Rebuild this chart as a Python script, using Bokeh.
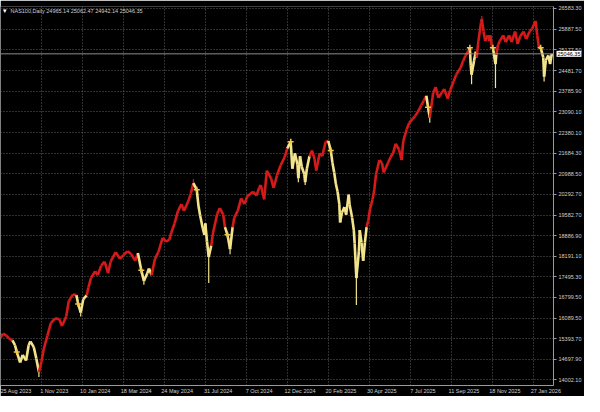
from bokeh.plotting import figure
from bokeh.models import ColumnDataSource, FixedTicker, NumeralTickFormatter, Span, Label
from bokeh.embed import file_html
from bokeh.resources import INLINE

# ---- data ----
bar_index = [0, 3, 7, 10, 14, 17, 19, 23, 26, 30, 33, 35, 39, 42, 45, 48, 51, 55, 59, 64,
             69, 72, 77, 80, 85, 89, 91, 94, 97, 101, 103, 106, 111, 114, 118, 122, 126, 129, 135, 140,
             144, 149, 153, 158, 161, 165, 168, 172, 174, 177, 181, 185, 190, 194, 198, 200, 204, 208, 212, 215,
             220, 223, 226, 230, 232, 234, 237, 239, 240, 242, 244, 247, 249, 254, 257, 261, 263, 266, 269, 272,
             274, 278, 282, 286, 289, 293, 296, 300, 303, 305, 309, 312, 317, 320, 324, 328, 333, 336, 340, 342,
             345, 348, 349, 351, 353, 356, 357, 359, 362, 365, 368, 370, 374, 377, 381, 384, 387, 389, 391, 393,
             395, 397, 398, 400, 403, 405, 408, 409, 412, 414, 415, 417, 420, 421, 423, 425, 427, 429, 431, 433,
             436, 438, 440, 444, 447, 449, 454, 457, 460, 463, 467, 470, 472, 476, 479, 483, 486, 489, 493, 496,
             499, 501, 503, 507, 510, 513, 517, 520, 524, 527, 531, 534, 539, 542, 545, 549, 550, 551, 552, 555,
             557, 558, 560, 563, 564, 566, 568, 571, 573, 574, 576, 577, 580, 581, 583, 585, 589, 592, 596, 599,
             603, 606, 609, 613, 616, 620, 623, 627, 629, 631, 633, 636, 637, 639, 642, 644, 646]
close = [15436, 15566, 15501, 15403, 15338, 15176, 14948, 14591, 14851, 14656, 15176, 15306, 15111, 14721, 14266, 14623, 15078, 15501, 15923, 16086,
         16053, 15826, 16151, 16671, 16898, 16866, 16573, 16281, 16736, 16866, 17126, 17451, 17679, 17549, 17874, 18004, 17614, 18004, 18329, 18101,
         18231, 18361, 18264, 18036, 18296, 17711, 17354, 17614, 17776, 17549, 18101, 18329, 18816, 18686, 18751, 18979, 19304, 19726, 19954, 19726,
         20051, 20311, 20668, 20441, 19889, 19564, 19141, 18914, 19304, 18686, 18166, 18556, 18979, 19629, 19824, 19596, 19174, 18914, 18426, 19174,
         19499, 19726, 20149, 19954, 20214, 20311, 20376, 20246, 20506, 20604, 20116, 21091, 20831, 20506, 20929, 21254, 21546, 21839, 22066, 21156,
         21676, 21286, 20831, 21579, 21221, 20961, 20701, 21156, 21579, 21774, 21481, 21091, 21676, 21579, 22066, 22099, 21774, 21351, 21026, 20636,
         20376, 19954, 19336, 19661, 19856, 19596, 20279, 19954, 19499, 19076, 18621, 17451, 18361, 19076, 18654, 18036, 18654, 19174, 19401, 19791,
         20116, 20441, 20961, 21449, 21351, 21026, 21351, 21546, 21676, 22001, 21806, 21449, 22099, 22489, 22716, 22846, 22944, 23074, 23301, 23464,
         23626, 23236, 22879, 23724, 23919, 23561, 23724, 23854, 23529, 23821, 24114, 24341, 24569, 24796, 24991, 25186, 25251, 24666, 24341, 24829,
         25121, 24926, 25479, 26096, 26226, 25803, 25479, 25674, 25479, 25674, 25251, 25251, 24699, 25024, 25349, 25479, 25674, 25446, 25674, 25446,
         25803, 25381, 25641, 25803, 25544, 25803, 25901, 26161, 25674, 25251, 25251, 24926, 24276, 24829, 24991, 24699, 25046]
# r = uptrend (red), y = pullback (yellow)
state = list("rrrrr" "yyyyyyyyyy" "rrrrrrrrrrr" "yyyy" "rrrrrrrrrrrrrrr" "yyyyy" "rrrrrrrrrrrrr"
             "yyyyyyyyy" "rrrrr" "yyy" "rrrrrrrrrrrrrrrrrr" "yyyyyyyyyyy" "rrrrrrr"
             "yyyyyyyyyyyyyyyyyyyyyy" "rrrrrrrrrrrrrrrrrrrrrrr" "yy" "rrrrrrrrrrrrr" "yyyyyy"
             "rrrrrrrrr" "yyy" "rrrrrrrrrrrrrrrr" "yyyyyyy")

wick_index = [45, 94, 168, 226, 244, 269, 340, 349, 357, 417, 503, 552, 564, 580, 637]
wick_low = [14100, 16151, 17221, 20668, 17286, 18261, 22066, 20699, 20600, 16540, 22715, 24015, 26226, 23885, 24113]
wick_high = [14266, 16281, 17354, 20797, 18166, 18426, 22164, 20831, 20701, 17451, 22879, 24341, 26324, 24699, 24276]
wick_state = ["y", "y", "y", "r", "y", "y", "y", "y", "y", "y", "y", "y", "r", "y", "y"]

signal_index = [19, 91, 165, 230, 266, 340, 387, 501, 550, 577, 633]
signal_price = [14948, 16573, 17711, 20441, 18914, 22066, 21774, 23236, 25251, 25251, 25251]

date_index = [0, 48, 96, 144, 192, 240, 288, 336, 384, 432, 480, 528, 576, 624]
date_labels = ["25 Aug 2023", "1 Nov 2023", "10 Jan 2024", "18 Mar 2024", "24 May 2024", "31 Jul 2024",
               "7 Oct 2024", "12 Dec 2024", "20 Feb 2025", "30 Apr 2025", "7 Jul 2025", "11 Sep 2025",
               "18 Nov 2025", "27 Jan 2026"]
price_ticks = [14002.10, 14697.90, 15393.70, 16089.50, 16799.50, 17495.30, 18191.10, 18886.90, 19582.70,
               20292.70, 20988.50, 21684.30, 22380.10, 23090.10, 23785.90, 24481.70, 25177.50, 25887.50, 26583.30]
last_ohlc = [24965.14, 25062.47, 24942.14, 25046.35]
symbol = "NAS100,Daily"

# ---- styling ----
RED = "#d41a1a"
YEL = "#f3e48c"
GOLD = "#f2c64a"
TXT = "#d0d0d0"
GRID = "#606060"
FONT = "Liberation Sans"
FS = "5.5px"
X_END = 648
Y_TOP = 26650

p = figure(width=584, height=396, output_backend="svg", toolbar_location=None,
           x_range=(0, X_END), y_range=(13811, Y_TOP), y_axis_location="right",
           background_fill_color="black", border_fill_color="black",
           min_border_left=0, min_border_top=0, min_border_right=30, min_border_bottom=10)
p.outline_line_color = None

cmap = {"r": RED, "y": YEL}
seg = ColumnDataSource(dict(x0=bar_index[:-1], y0=close[:-1], x1=bar_index[1:], y1=close[1:],
                            c=[cmap[s] for s in state[1:]]))
p.segment("x0", "y0", "x1", "y1", source=seg, line_color="c", line_width=2.6)

wk = ColumnDataSource(dict(x=wick_index, lo=wick_low, hi=wick_high, c=[cmap[s] for s in wick_state]))
p.segment("x", "lo", "x", "hi", source=wk, line_color="c", line_width=1.2)

p.scatter(signal_index, signal_price, marker="cross", size=6, line_color=GOLD, line_width=1.5)

p.add_layout(Span(location=last_ohlc[3], dimension="width", line_color="#8c8c8c", line_width=1))

# axes: MetaTrader puts date labels to the right of their grid line
label_shift = 15
p.xaxis.ticker = FixedTicker(ticks=[d + label_shift for d in date_index])
p.xaxis.major_label_overrides = {d + label_shift: l for d, l in zip(date_index, date_labels)}
p.xgrid.ticker = FixedTicker(ticks=date_index)
p.yaxis.ticker = FixedTicker(ticks=price_ticks)
p.yaxis.formatter = NumeralTickFormatter(format="0.00")
for ax in (p.xaxis[0], p.yaxis[0]):
    ax.axis_line_color = "#9a9a9a"
    ax.major_tick_line_color = "#9a9a9a"
    ax.minor_tick_line_color = None
    ax.major_label_text_color = TXT
    ax.major_label_text_font = FONT
    ax.major_label_text_font_size = FS
    ax.major_label_standoff = 2
p.xaxis.major_tick_line_color = None
p.xaxis.major_tick_out = 0
p.xaxis.major_tick_in = 0
p.yaxis.major_tick_out = 3
p.yaxis.major_tick_in = 0

p.grid.grid_line_color = GRID
p.grid.grid_line_dash = "1 2"
p.grid.grid_line_width = 1

# header text
p.add_layout(Label(x=0, y=Y_TOP, x_offset=2, y_offset=0, text="\u25BE", text_color="white",
                   text_font_size="7px", text_baseline="top"))
title = symbol + " " + " ".join(f"{v:.2f}" for v in last_ohlc)
p.add_layout(Label(x=0, y=Y_TOP, x_offset=10, y_offset=-1, text=title, text_color=TXT,
                   text_font=FONT, text_font_size=FS, text_baseline="top"))
# last price tag on the price scale (kept in a side panel so it is not clipped to the frame)
p.add_layout(Label(x=X_END, y=last_ohlc[3], x_offset=3, text=f"{last_ohlc[3]:.2f}", text_color="black",
                   text_font=FONT, text_font_size=FS, text_baseline="middle",
                   background_fill_color="white", padding=1), "above")

open("out.html", "w").write(file_html(p, INLINE))
